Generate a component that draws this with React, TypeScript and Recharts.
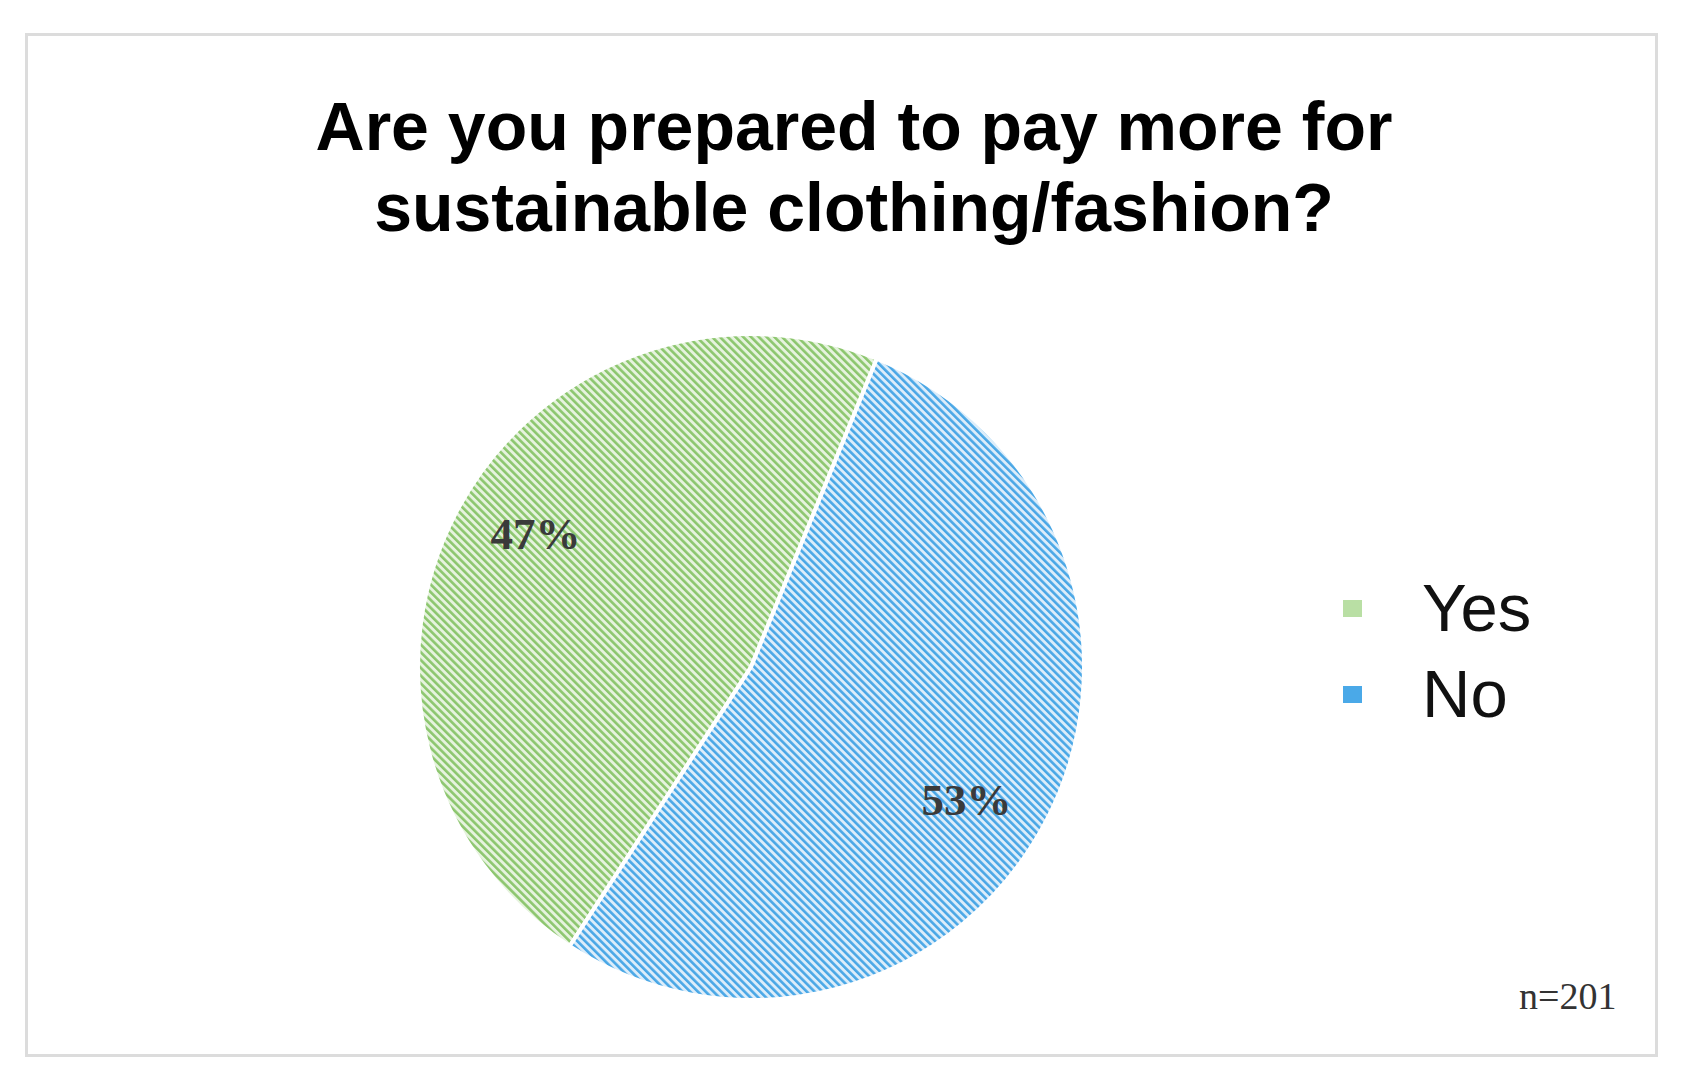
import React from "react";
import { PieChart, Pie, Cell, Legend } from "recharts";

// survey answers, percent of respondents
const answers = ["Yes", "No"];
const shares = [47, 53];
const sampleNote = "n=201";
const titleLines = ["Are you prepared to pay more for", "sustainable clothing/fashion?"];

const HATCH = [
  { id: "hatchYes", fg: "#8cc66e", bg: "#e6f3de", swatch: "#b9dfa4" },
  { id: "hatchNo", fg: "#49a7e6", bg: "#dcedfa", swatch: "#4aa9e8" },
];

const data = answers.map((name, i) => ({ name, value: shares[i] }));

const RADIAN = Math.PI / 180;

// labels sit a little clockwise of the slice middle, like the original
const renderLabel = (props: any) => {
  const { cx, cy, midAngle, outerRadius, value } = props;
  const r = outerRadius * 0.76;
  const a = midAngle - 4;
  const x = cx + r * Math.cos(-a * RADIAN);
  const y = cy + r * Math.sin(-a * RADIAN);
  return (
    <text
      x={x}
      y={y}
      textAnchor="middle"
      dominantBaseline="central"
      fill="#3a3a3a"
      fontFamily="'Liberation Serif', 'Times New Roman', serif"
      fontWeight="bold"
      fontSize={45}
    >
      {`${value}%`}
    </text>
  );
};

const renderLegend = () => (
  <div style={{ display: "flex", flexDirection: "column" }}>
    {answers.map((name, i) => (
      <div key={name} style={{ display: "flex", alignItems: "center", height: 86 }}>
        <div style={{ width: 19, height: 17, background: HATCH[i].swatch, marginRight: 60 }} />
        <span
          style={{
            fontFamily: "'Liberation Sans', Arial, sans-serif",
            fontSize: 67,
            color: "#111",
            lineHeight: "86px",
          }}
        >
          {name}
        </span>
      </div>
    ))}
  </div>
);

export default function App() {
  return (
    <div style={{ position: "fixed", left: 0, top: 0, width: 1683, height: 1080, background: "#fff" }}>
      <div
        style={{
          position: "absolute",
          left: 25,
          top: 33,
          width: 1627,
          height: 1018,
          border: "3px solid #dcdcdc",
        }}
      />
      <div
        style={{
          position: "absolute",
          left: 0,
          top: 86,
          width: 1708,
          textAlign: "center",
          fontFamily: "'Liberation Sans', Arial, sans-serif",
          fontWeight: "bold",
          fontSize: 68,
          lineHeight: "81px",
          color: "#000",
        }}
      >
        {titleLines.map((t) => (
          <div key={t}>{t}</div>
        ))}
      </div>
      <div style={{ position: "absolute", left: 0, top: 0 }}>
        <PieChart width={1683} height={1080}>
          <defs>
            {HATCH.map((h) => (
              <pattern
                key={h.id}
                id={h.id}
                patternUnits="userSpaceOnUse"
                width={5.5}
                height={5.5}
                patternTransform="rotate(-45)"
              >
                <rect x={0} y={0} width={5.5} height={5.5} fill={h.bg} />
                <rect x={0} y={0} width={2.6} height={5.5} fill={h.fg} />
              </pattern>
            ))}
          </defs>
          <Pie
            data={data}
            dataKey="value"
            nameKey="name"
            cx={746}
            cy={662}
            outerRadius={333}
            startAngle={-123}
            endAngle={-483}
            stroke="#ffffff"
            strokeWidth={4}
            label={renderLabel}
            labelLine={false}
            isAnimationActive={false}
          >
            {data.map((d, i) => (
              <Cell key={d.name} fill={`url(#${HATCH[i].id})`} />
            ))}
          </Pie>
          <Legend
            content={renderLegend}
            layout="vertical"
            verticalAlign="middle"
            align="right"
            wrapperStyle={{ left: 1343, top: 565, width: 260 }}
          />
        </PieChart>
      </div>
      <div
        style={{
          position: "absolute",
          left: 1519,
          top: 974,
          fontFamily: "'Liberation Serif', 'Times New Roman', serif",
          fontSize: 38,
          color: "#333",
        }}
      >
        {sampleNote}
      </div>
    </div>
  );
}
